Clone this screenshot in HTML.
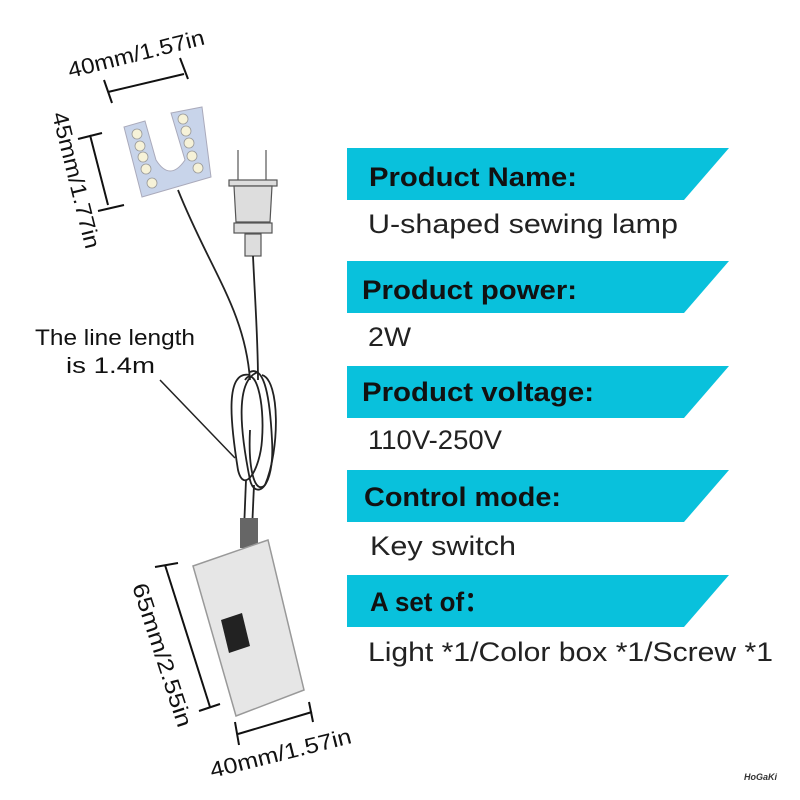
<!DOCTYPE html>
<html><head><meta charset="utf-8"><style>
html,body{margin:0;padding:0;background:#fff;}
svg{display:block}
</style></head><body>
<svg width="800" height="800" viewBox="0 0 800 800" xmlns="http://www.w3.org/2000/svg" font-family="Liberation Sans, sans-serif">
<rect width="800" height="800" fill="#fff"/>
<g fill="#09c1dc">
<polygon points="347,148 729,148 684,200 347,200"/>
<polygon points="347,261 729,261 684,313 347,313"/>
<polygon points="347,366 729,366 684,418 347,418"/>
<polygon points="347,470 729,470 684,522 347,522"/>
<polygon points="347,575 729,575 684,627 347,627"/>
</g>
<g font-weight="bold" font-size="27" fill="#111" lengthAdjust="spacingAndGlyphs">
<text x="369" y="186" textLength="208" lengthAdjust="spacingAndGlyphs">Product Name:</text>
<text x="362" y="299" textLength="215" lengthAdjust="spacingAndGlyphs">Product power:</text>
<text x="362" y="401" textLength="232" lengthAdjust="spacingAndGlyphs">Product voltage:</text>
<text x="364" y="506" textLength="197" lengthAdjust="spacingAndGlyphs">Control mode:</text>
<text x="370" y="611" textLength="120" lengthAdjust="spacingAndGlyphs">A set of：</text>
</g>
<g font-size="27" fill="#222">
<text x="368" y="233" textLength="310" lengthAdjust="spacingAndGlyphs">U-shaped sewing lamp</text>
<text x="368" y="346" textLength="43" lengthAdjust="spacingAndGlyphs">2W</text>
<text x="368" y="449" textLength="134" lengthAdjust="spacingAndGlyphs">110V-250V</text>
<text x="370" y="555" textLength="146" lengthAdjust="spacingAndGlyphs">Key switch</text>
<text x="368" y="661" textLength="405" lengthAdjust="spacingAndGlyphs">Light *1/Color box *1/Screw *1</text>
</g>
<g stroke="#111" stroke-width="2" fill="none">
<line x1="108" y1="92" x2="184" y2="74"/>
<line x1="104" y1="80" x2="112" y2="103"/>
<line x1="180" y1="58" x2="188" y2="79"/>
<line x1="90" y1="135" x2="108" y2="205"/>
<line x1="78" y1="139" x2="102" y2="133"/>
<line x1="98" y1="211" x2="124" y2="205"/>
</g>
<text x="0" y="0" font-size="22" fill="#111" transform="translate(70,78) rotate(-14)" textLength="140" lengthAdjust="spacingAndGlyphs">40mm/1.57in</text>
<text x="0" y="0" font-size="22" fill="#111" transform="translate(52,114) rotate(76)" textLength="140" lengthAdjust="spacingAndGlyphs">45mm/1.77in</text>
<path d="M124,127 L145,121 L156,160 Q170,182 185,160 L171,113 L202,107 L211,177 L142,197 Z" fill="#c8d4ea" stroke="#aab" stroke-width="1"/>
<g fill="#f6f2d8" stroke="#999" stroke-width="0.8">
<circle cx="137" cy="134" r="5"/><circle cx="140" cy="146" r="5"/><circle cx="143" cy="157" r="5"/><circle cx="146" cy="169" r="5"/><circle cx="152" cy="183" r="5"/>
<circle cx="183" cy="119" r="5"/><circle cx="186" cy="131" r="5"/><circle cx="189" cy="143" r="5"/><circle cx="192" cy="156" r="5"/><circle cx="198" cy="168" r="5"/>
</g>
<g stroke="#555" fill="#ddd" stroke-width="1.2">
<line x1="238" y1="150" x2="238" y2="182"/><line x1="266" y1="150" x2="266" y2="182"/>
<rect x="229" y="180" width="48" height="6"/>
<path d="M234,186 L272,186 L270,222 L236,222 Z"/>
<rect x="234" y="223" width="38" height="10"/>
<rect x="245" y="234" width="16" height="22"/>
</g>
<g stroke="#222" stroke-width="1.8" fill="none">
<path d="M178,190 C210,270 245,310 250,380"/>
<path d="M253,256 C255,300 258,340 258,380"/>
<path d="M250,375 C225,370 230,420 238,470 C244,495 260,470 262,440 C265,400 255,365 245,380"/>
<path d="M258,372 C235,380 240,430 250,480 C255,500 275,490 272,440 C270,400 265,365 250,372"/>
<path d="M262,375 C280,380 280,450 265,485 C255,495 248,470 250,430"/>
<path d="M246,480 L244,530"/><path d="M254,485 L252,530"/>
<line x1="160" y1="380" x2="235" y2="458" stroke-width="1.5"/>
</g>
<rect x="240" y="518" width="18" height="30" fill="#666"/>
<text x="35" y="345" font-size="22" fill="#111" textLength="160" lengthAdjust="spacingAndGlyphs">The line length</text>
<text x="66" y="373" font-size="22" fill="#111" textLength="89" lengthAdjust="spacingAndGlyphs">is 1.4m</text>
<path d="M193,566 L268,540 L304,690 L236,716 Z" fill="#e6e6e6" stroke="#999" stroke-width="1.5"/>
<path d="M221,620 L242,613 L250,646 L229,653 Z" fill="#222"/>
<g stroke="#111" stroke-width="2" fill="none">
<line x1="165" y1="565" x2="210" y2="707"/>
<line x1="155" y1="567" x2="178" y2="563"/>
<line x1="199" y1="711" x2="220" y2="704"/>
<line x1="238" y1="734" x2="312" y2="712"/>
<line x1="235" y1="722" x2="239" y2="745"/>
<line x1="309" y1="702" x2="313" y2="722"/>
</g>
<text x="0" y="0" font-size="22" fill="#111" transform="translate(132,586) rotate(72)" textLength="150" lengthAdjust="spacingAndGlyphs">65mm/2.55in</text>
<text x="0" y="0" font-size="22" fill="#111" transform="translate(212,778) rotate(-14)" textLength="145" lengthAdjust="spacingAndGlyphs">40mm/1.57in</text>
<text x="744" y="780" font-size="9" font-weight="bold" font-style="italic" fill="#333">HoGaKi</text>
</svg>
</body></html>
